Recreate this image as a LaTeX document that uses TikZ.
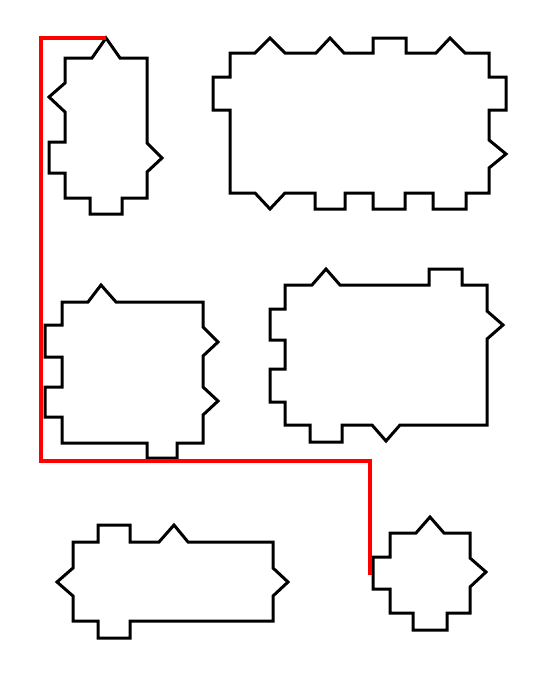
\documentclass[tikz,border=0pt]{standalone}
\usepackage{tikz}

\tikzset{
  piece/.style={draw=black, line width=3pt},
  wire/.style={draw=red, line width=4pt}
}

\begin{document}
\begin{tikzpicture}[x=1pt,y=-1pt]
\useasboundingbox (0,0) rectangle (536,680);

% top row
\draw[piece] (65,58) -- (92,58) -- (106,38) -- (120,58) -- (147,58) -- (147,143) -- (162,158) -- (147,172) -- (147,198) -- (122,198) -- (122,214) -- (90,214) -- (90,198) -- (65,198) -- (65,173) -- (49,173) -- (49,142) -- (65,142) -- (65,112) -- (49,97) -- (65,83) -- cycle;
\draw[piece] (230,53) -- (255,53) -- (270,38) -- (285,53) -- (316,53) -- (330,38) -- (344,53) -- (373,53) -- (373,38) -- (406,38) -- (406,53) -- (436,53) -- (450,38) -- (465,53) -- (489,53) -- (489,77) -- (506,77) -- (506,110) -- (489,110) -- (489,140) -- (506,154) -- (489,168) -- (489,193) -- (466,193) -- (466,209) -- (433,209) -- (433,193) -- (405,193) -- (405,209) -- (373,209) -- (373,193) -- (345,193) -- (345,209) -- (315,209) -- (315,193) -- (285,193) -- (270,209) -- (255,193) -- (230,193) -- (230,110) -- (213,110) -- (213,77) -- (230,77) -- cycle;

% middle row
\draw[piece] (62,302) -- (88,302) -- (101,285) -- (116,302) -- (203,302) -- (203,327) -- (218,342) -- (203,356) -- (203,387) -- (218,401) -- (203,415) -- (203,443) -- (177,443) -- (177,458) -- (147,458) -- (147,443) -- (62,443) -- (62,417) -- (45,417) -- (45,387) -- (62,387) -- (62,357) -- (45,357) -- (45,325) -- (62,325) -- cycle;
\draw[piece] (285,285) -- (312,285) -- (326,269) -- (340,285) -- (429,285) -- (429,269) -- (462,269) -- (462,285) -- (487,285) -- (487,311) -- (503,325) -- (487,339) -- (487,425) -- (400,425) -- (386,441) -- (372,425) -- (342,425) -- (342,442) -- (310,442) -- (310,425) -- (285,425) -- (285,402) -- (270,402) -- (270,369) -- (285,369) -- (285,340) -- (270,340) -- (270,309) -- (285,309) -- cycle;

% bottom row
\draw[piece] (73,542) -- (98,542) -- (98,525) -- (130,525) -- (130,542) -- (159,542) -- (174,525) -- (188,542) -- (273,542) -- (273,568) -- (288,582) -- (273,596) -- (273,621) -- (130,621) -- (130,638) -- (98,638) -- (98,621) -- (73,621) -- (73,596) -- (57,582) -- (73,568) -- cycle;
\draw[piece] (390,533) -- (416,533) -- (430,517) -- (444,533) -- (470,533) -- (470,558) -- (486,572) -- (470,587) -- (470,613) -- (447,613) -- (447,630) -- (413,630) -- (413,613) -- (390,613) -- (390,589) -- (373,589) -- (373,557) -- (390,557) -- cycle;

% red route
\coordinate (wireStart) at (106,38);
\coordinate (wireBend) at (41,461);
\coordinate (wireEnd) at (370,575);
\draw[wire] (wireStart) -| (wireBend) -| (wireEnd);
\end{tikzpicture}
\end{document}
